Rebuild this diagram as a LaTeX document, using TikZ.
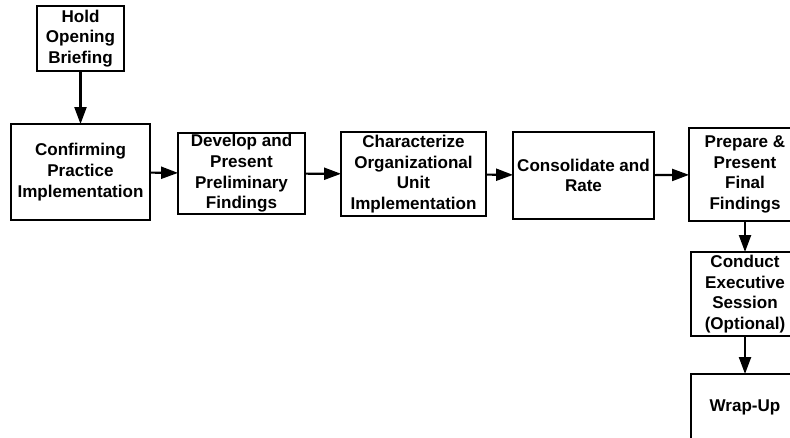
\documentclass[tikz,border=0pt]{standalone}
\usepackage{fontspec}
\setmainfont{Liberation Sans}
\usepackage{tkz-graph}
\usetikzlibrary{arrows.meta}

\begin{document}
\begin{tikzpicture}
    \useasboundingbox (0,0) rectangle (15.8,8.74);
    \clip (0,0) rectangle (15.8,8.74);
    \SetUpEdge[lw         = 1.2pt,
        labelcolor = white]
    \GraphInit[vstyle=Normal]
    \tikzset{VertexStyle/.style={draw, rectangle, line width=0.8pt, inner sep=0pt,
        align=center, font=\bfseries\fontsize{9.7}{11.8}\selectfont}}
    \Vertex[x=1.61,y=7.97,L={Hold\\Opening\\Briefing},
        style={minimum width=1.74cm,minimum height=1.30cm}]{hold}
    \Vertex[x=1.61,y=5.30,L={Confirming\\Practice\\Implementation},
        style={minimum width=2.78cm,minimum height=1.92cm}]{confirm}
    \Vertex[x=4.83,y=5.27,L={Develop and\\Present\\Preliminary\\Findings},
        style={minimum width=2.54cm,minimum height=1.62cm}]{develop}
    \Vertex[x=8.27,y=5.26,L={Characterize\\Organizational\\Unit\\Implementation},
        style={minimum width=2.90cm,minimum height=1.68cm}]{character}
    \Vertex[x=11.67,y=5.23,L={Consolidate and\\Rate},
        style={minimum width=2.82cm,minimum height=1.74cm}]{consol}
    \Vertex[x=14.90,y=5.25,L={Prepare \&\\Present\\Final\\Findings},
        style={minimum width=2.24cm,minimum height=1.86cm}]{prepare}
    \Vertex[x=14.90,y=2.86,L={Conduct\\Executive\\Session\\(Optional)},
        style={minimum width=2.16cm,minimum height=1.68cm}]{conduct}
    \Vertex[x=14.90,y=0.60,L={Wrap-Up},
        style={minimum width=2.16cm,minimum height=1.32cm}]{wrapup}
    \tikzset{EdgeStyle/.style={line width=1.2pt, -{Triangle[length=9.6pt,width=6.8pt]}}}
    \Edge(hold)(confirm)
    \Edge(confirm)(develop)
    \Edge(develop)(character)
    \Edge(character)(consol)
    \Edge(consol)(prepare)
    \Edge(prepare)(conduct)
    \Edge(conduct)(wrapup)
\end{tikzpicture}
\end{document}
